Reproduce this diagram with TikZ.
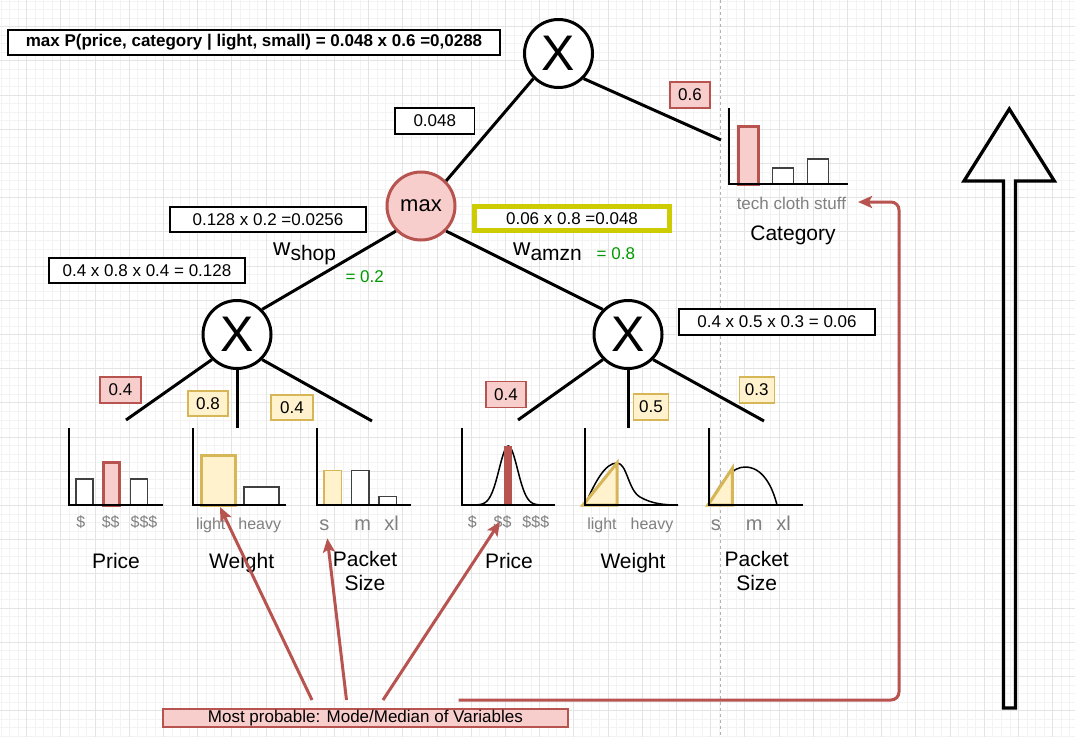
\documentclass[tikz,border=0pt]{standalone}
\usepackage{fontspec}
\setmainfont{Liberation Sans}
\usetikzlibrary{arrows.meta}
\definecolor{pinkc}{HTML}{F8CECC}
\definecolor{redc}{HTML}{B85450}
\definecolor{yelc}{HTML}{FFF2CC}
\definecolor{yelb}{HTML}{D6B656}
\definecolor{olivec}{HTML}{CCCC00}
\definecolor{greenc}{HTML}{009900}
\definecolor{grayt}{HTML}{808080}
\definecolor{gridmin}{HTML}{F3F3F3}
\definecolor{gridmaj}{HTML}{E4E4E4}
\newcommand{\fsz}[2]{\fontsize{#1}{#2}\selectfont}
\begin{document}
\begin{tikzpicture}[x=1pt,y=-1pt,
  numbox/.style={draw=black, line width=1.3pt, fill=white, inner sep=0pt, font=\fsz{17}{20}},
  pinkbox/.style={draw=redc, line width=1.3pt, fill=pinkc, inner sep=0pt, font=\fsz{17}{20}},
  yelbox/.style={draw=yelb, line width=1.3pt, fill=yelc, inner sep=0pt, font=\fsz{17}{20}},
  xnode/.style={circle, draw=black, line width=3pt, fill=white, minimum size=68pt, inner sep=0pt, font=\fsz{50}{52}},
  treeline/.style={draw=black, line width=3pt},
  axisline/.style={draw=black, line width=2pt},
  plainbar/.style={draw=black!75, line width=1.5pt, fill=white},
  pinkbar/.style={draw=redc, line width=3pt, fill=pinkc},
  yelbar/.style={draw=yelb, line width=3pt, fill=yelc},
  yelthin/.style={draw=yelb, line width=1.5pt, fill=yelc},
  curveline/.style={draw=black, line width=1.5pt},
  graylab/.style={text=grayt, anchor=base, inner sep=0pt, font=\fsz{16}{19}},
  graybig/.style={text=grayt, anchor=base, inner sep=0pt, font=\fsz{20}{23}},
  varlab/.style={anchor=base, inner sep=0pt, font=\fsz{21}{24}},
  greenlab/.style={text=greenc, anchor=base west, inner sep=0pt, font=\fsz{17}{20}},
  redarrow/.style={draw=redc, line width=3pt, -{Stealth[length=14pt, width=12pt, inset=3pt]}},
]
\useasboundingbox (0,0) rectangle (1075,737);
\fill[white] (0,0) rectangle (1075,737);
% grid
\foreach \i in {0,...,125} \draw[gridmin, line width=0.7pt] ({0.95+\i*8.55},0) -- ({0.95+\i*8.55},737);
\foreach \i in {0,...,86} \draw[gridmin, line width=0.7pt] (0,{0.95+\i*8.55}) -- (1075,{0.95+\i*8.55});
\foreach \i in {0,...,31} \draw[gridmaj, line width=0.9pt] ({26.6+\i*34.2},0) -- ({26.6+\i*34.2},737);
\foreach \i in {0,...,21} \draw[gridmaj, line width=0.9pt] (0,{26.6+\i*34.2}) -- (1075,{26.6+\i*34.2});
\draw[black!30, line width=0.8pt, dash pattern=on 3pt off 3pt] (720,0) -- (720,737);

% title
\node[numbox, font=\bfseries\fsz{17}{20}, minimum width=492pt, minimum height=25pt] (title) at (254,42.5) {max P(price, category | light, small) = 0.048 x 0.6 =0,0288};

% main nodes
\node[xnode] (top) at (558.5,53.5) {X};
\node[circle, draw=redc, line width=3pt, fill=pinkc, minimum size=68pt, inner sep=0pt, font=\fsz{22}{24}] (max) at (421,206) {max};
\node[xnode] (lx) at (237,334.5) {X};
\node[xnode] (rx) at (628,334.5) {X};

% tree lines
\coordinate (catin) at (721,140);
\draw[treeline] (top.-45) -- (catin);
\draw[treeline] (top.-135) -- (max.45);
\draw[treeline] (max.-135) -- (lx.45);
\draw[treeline] (max.-45) -- (rx.135);
\coordinate (lpe) at (126,420);
\coordinate (lwe) at (237,428);
\coordinate (lse) at (372,421);
\coordinate (rpe) at (518,420);
\coordinate (rwe) at (628,428);
\coordinate (rse) at (764,421);
\draw[treeline] (lx.-135) -- (lpe);
\draw[treeline] (lx.south) -- (lwe);
\draw[treeline] (lx.-45) -- (lse);
\draw[treeline] (rx.-135) -- (rpe);
\draw[treeline] (rx.south) -- (rwe);
\draw[treeline] (rx.-45) -- (rse);

% value boxes
\node[numbox, minimum width=79.5pt, minimum height=26pt] (b048) at (434.8,121) {0.048};
\node[numbox, minimum width=196pt, minimum height=25pt] (bshop) at (268,219.5) {0.128 x 0.2 =0.0256};
\node[numbox, minimum width=196pt, minimum height=25pt] (bleft) at (147,270.5) {0.4 x 0.8 x 0.4 = 0.128};
\node[numbox, draw=olivec, line width=5pt, minimum width=195pt, minimum height=24pt] (bamzn) at (572,218.5) {0.06 x 0.8 =0.048};
\node[numbox, minimum width=196pt, minimum height=26pt] (bright) at (777,322) {0.4 x 0.5 x 0.3 = 0.06};
\node[pinkbox, minimum width=40pt, minimum height=26pt] (p06) at (690,95) {0.6};
\node[pinkbox, minimum width=41pt, minimum height=26pt] (lp) at (120.5,390) {0.4};
\node[yelbox, minimum width=40pt, minimum height=25pt] (lw) at (208,403.5) {0.8};
\node[yelbox, minimum width=42pt, minimum height=25pt] (ls) at (292,407.5) {0.4};
\node[pinkbox, minimum width=40pt, minimum height=26pt] (rp) at (506,394.5) {0.4};
\node[yelbox, minimum width=35pt, minimum height=26pt] (rw) at (651,407) {0.5};
\node[yelbox, minimum width=35pt, minimum height=26pt] (rs) at (756.7,390) {0.3};

% weights
\node[anchor=base west, inner sep=0pt, font=\fsz{24}{28}] (wshop) at (273,255) {w\raisebox{-5.7pt}{\fsz{21}{24}shop}};
\node[greenlab] (g02) at (345.4,282) {= 0.2};
\node[anchor=base west, inner sep=0pt, font=\fsz{24}{28}] (wamzn) at (513,255) {w\raisebox{-5.7pt}{\fsz{21}{24}amzn}};
\node[greenlab] (g08) at (596.5,259.3) {= 0.8};

% category histogram
\draw[pinkbar] (738.5,184) rectangle (758.5,126.5);
\draw[plainbar] (772.5,184) rectangle (793.7,168);
\draw[plainbar] (807.5,184) rectangle (828.6,159);
\draw[axisline] (728.6,108) -- (728.6,184) -- (847.5,184);
\node[graylab, font=\fsz{17}{20}] (cattxt) at (791.4,209) {tech cloth stuff};
\node[varlab] (catlab) at (793,240) {Category};

% left price
\draw[plainbar] (76,505) rectangle (93,479);
\draw[pinkbar] (103.5,505) rectangle (119.5,462);
\draw[plainbar] (130.7,505) rectangle (147.7,479);
\draw[axisline] (69.3,428) -- (69.3,505) -- (162.7,505);
\node[graylab] (lp1) at (80.7,527.5) {\$};
\node[graylab] (lp2) at (110.7,527.5) {\$\$};
\node[graylab] (lp3) at (144,527.5) {\$\$\$};
\node[varlab] (lplab) at (116,568) {Price};
% left weight
\draw[yelbar] (201.5,505) rectangle (235.5,455.5);
\draw[plainbar] (244,505) rectangle (279,487);
\draw[axisline] (193.3,428) -- (193.3,505) -- (286,505);
\node[graylab] (lw1) at (210.7,529.5) {light};
\node[graylab] (lw2) at (259.8,529.5) {heavy};
\node[varlab] (lwlab) at (241.7,568) {Weight};
% left packet
\draw[yelthin] (324,505) rectangle (341.7,470.7);
\draw[plainbar] (351.7,505) rectangle (369,470.7);
\draw[plainbar] (379,505) rectangle (396.7,496.3);
\draw[axisline] (317.3,428) -- (317.3,505) -- (410.7,505);
\node[graybig] (ls1) at (324.3,530.5) {s};
\node[graybig] (ls2) at (362.8,530.5) {m};
\node[graybig] (ls3) at (391.7,530.5) {xl};
\node[varlab] (lslab) at (365,566) {Packet};
\node[varlab] (lslab2) at (365,590) {Size};

% right price
\draw[curveline] plot[domain=464:552, samples=90, smooth] (\x, {505-59*exp(-((\x-508.3)/13)^2)});
\fill[redc] (504.3,446) rectangle (512.3,505);
\draw[axisline] (461.7,428) -- (461.7,505) -- (555,505);
\node[graylab] (rp1) at (472.3,527.5) {\$};
\node[graylab] (rp2) at (502.5,527.5) {\$\$};
\node[graylab] (rp3) at (535.8,527.5) {\$\$\$};
\node[varlab] (rplab) at (509,568) {Price};
% right weight
\draw[curveline] (585,505) .. controls (595,482) and (605,463) .. (617,463) .. controls (627,463) and (628,490) .. (640,497) .. controls (652,504) and (665,505) .. (678,505);
\draw[yelbar, line join=miter] (583,505) -- (617,463) -- (617,505) -- cycle;
\draw[axisline] (585,428) -- (585,505) -- (678,505);
\node[graylab] (rw1) at (602,529.5) {light};
\node[graylab] (rw2) at (652,529.5) {heavy};
\node[varlab] (rwlab) at (633,568) {Weight};
% right packet
\draw[curveline] (709,505) .. controls (722,480) and (732,467) .. (745,467) .. controls (762,467) and (772,485) .. (777,505);
\draw[yelbar, line join=miter] (708,505) -- (732.3,468.3) -- (732.3,505) -- cycle;
\draw[axisline] (709.3,428) -- (709.3,505) -- (802.7,505);
\node[graybig] (rs1) at (715.8,530.5) {s};
\node[graybig] (rs2) at (754.3,530.5) {m};
\node[graybig] (rs3) at (783.7,530.5) {xl};
\node[varlab] (rslab) at (756.7,566) {Packet};
\node[varlab] (rslab2) at (756.7,590) {Size};

% bottom label and arrows
\node[pinkbox, draw=redc, line width=1.2pt, minimum width=405pt, minimum height=18pt, font=\fsz{17}{18}] (mp) at (365.4,718) {Most probable: Mode/Median of Variables};
\coordinate (s1) at (312,700);
\coordinate (t1) at (220,507);
\coordinate (s2) at (346.5,700);
\coordinate (t2) at (327.3,538.3);
\coordinate (s3) at (383,700);
\coordinate (t3) at (500,521.7);
\coordinate (s4) at (458.6,700);
\coordinate (t4) at (858,202);
\draw[redarrow] (s1) -- (t1);
\draw[redarrow] (s2) -- (t2);
\draw[redarrow] (s3) -- (t3);
\draw[redarrow, rounded corners=8pt] (s4) -- (899,700) -- (899,202) -- (t4);

% big hollow arrow
\draw[black, line width=3.3pt, line join=miter] (1003.5,708) -- (1003.5,181) -- (964,181) -- (1009.3,109) -- (1054.3,181) -- (1015.5,181) -- (1015.5,708) -- cycle;
\end{tikzpicture}
\end{document}
